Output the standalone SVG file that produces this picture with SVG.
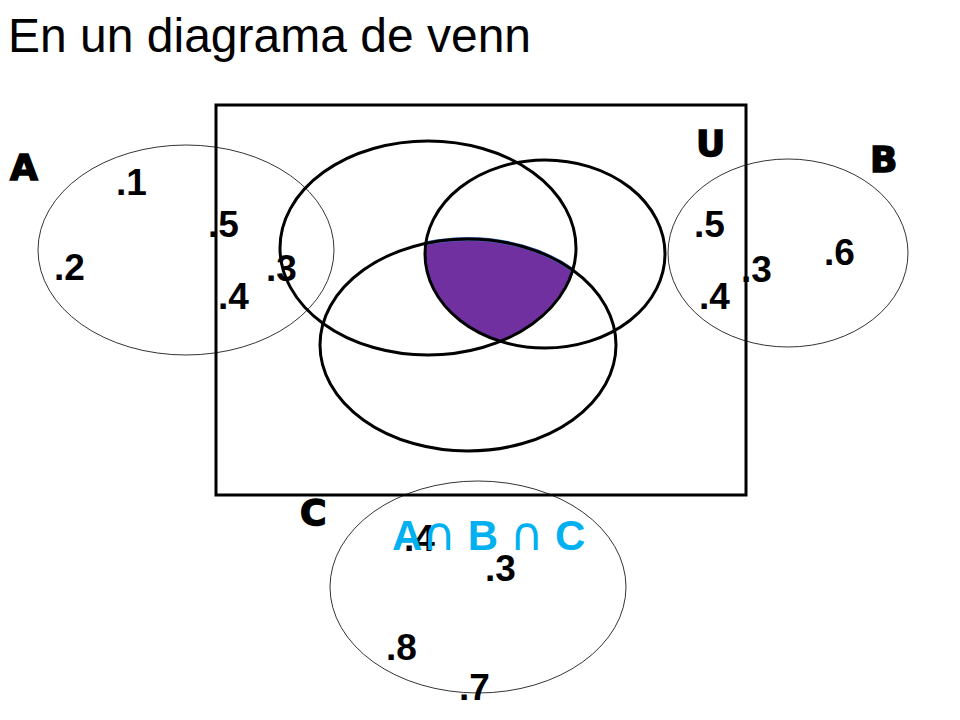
<svg xmlns="http://www.w3.org/2000/svg" width="960" height="720" viewBox="0 0 960 720">
<style>
.t{font-family:"Liberation Sans",Arial,sans-serif}
.n{font-family:"Liberation Sans",Arial,sans-serif;font-weight:bold;font-size:37px;fill:#000}
.L{font-family:"DejaVu Sans","Liberation Sans",sans-serif;font-weight:900;font-size:36px;fill:#000;stroke:#000;stroke-width:1.5}
.thin{fill:none;stroke:#000;stroke-width:0.8}
.thick{fill:none;stroke:#000;stroke-width:3}
</style>
<defs>
<clipPath id="c1"><ellipse cx="428" cy="248" rx="148" ry="107"/></clipPath>
<clipPath id="c2"><ellipse cx="545" cy="254" rx="120" ry="94"/></clipPath>
</defs>
<rect width="960" height="720" fill="#fff"/>
<text class="t" x="8" y="52" font-size="48">En un diagrama de venn</text>
<g id="universe"><rect x="216" y="105" width="530" height="390" class="thick"/><text class="L" x="696" y="156">U</text></g>
<g id="purple"><g clip-path="url(#c1)"><g clip-path="url(#c2)"><ellipse cx="468" cy="345" rx="148" ry="106" fill="#7030A0" stroke="#4472C4" stroke-width="4"/></g></g></g>
<g id="inner">
<ellipse cx="428" cy="248" rx="148" ry="107" class="thick"/>
<ellipse cx="545" cy="254" rx="120" ry="94" class="thick"/>
<ellipse cx="468" cy="345" rx="148" ry="106" class="thick"/>
</g>
<g id="setA"><ellipse cx="186" cy="250" rx="148" ry="105" class="thin"/><text class="L" x="10" y="180">A</text>
<text class="n" x="116" y="195">.1</text><text class="n" x="208" y="237">.5</text><text class="n" x="54" y="280">.2</text><text class="n" x="266" y="281">.3</text><text class="n" x="218" y="309">.4</text></g>
<g id="setB"><ellipse cx="788" cy="253" rx="120" ry="94" class="thin"/><text class="L" x="870" y="172">B</text>
<text class="n" x="694" y="237">.5</text><text class="n" x="824" y="265">.6</text><text class="n" x="741" y="282">.3</text><text class="n" x="699" y="309">.4</text></g>
<g id="setC"><ellipse cx="478" cy="587" rx="148" ry="106" class="thin"/><text class="L" x="300" y="525">C</text>
<text class="n" x="404" y="551">.4</text><text class="n" x="485" y="581">.3</text><text class="n" x="386" y="660">.8</text><text class="n" x="459" y="700">.7</text></g>
<text class="t" x="392" y="550" font-size="42" font-weight="bold" fill="#00B0F0">A<tspan font-family="DejaVu Sans" font-size="46" font-weight="normal">∩</tspan> B <tspan font-family="DejaVu Sans" font-size="46" font-weight="normal">∩</tspan> C</text>
</svg>
